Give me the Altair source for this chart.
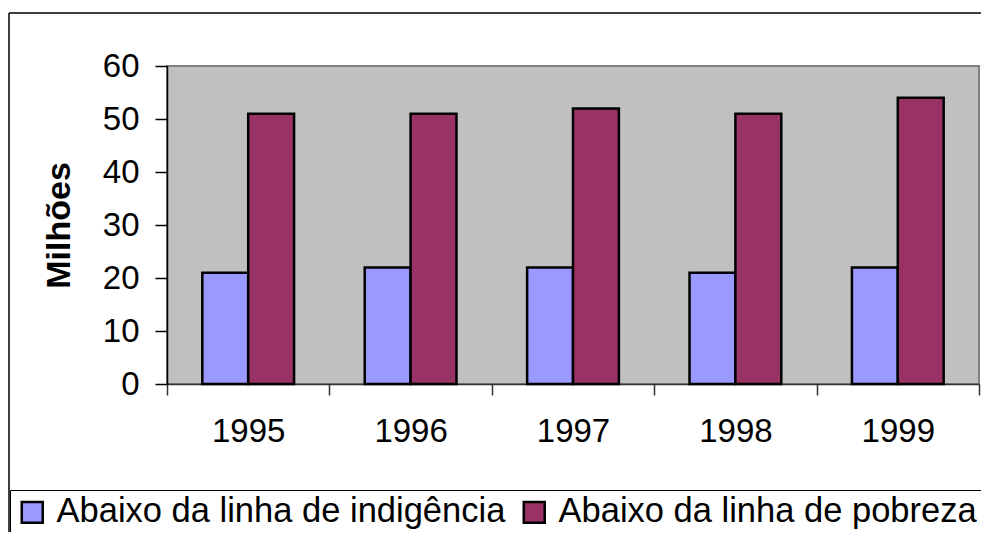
import altair as alt
import pandas as pd

anos = ["1995", "1996", "1997", "1998", "1999"]
indigencia = [21, 22, 22, 21, 22]
pobreza = [51, 51, 52, 51, 54]
series = ["Abaixo da linha de indigência", "Abaixo da linha de pobreza"]
cores = ["#9999FF", "#993366"]
y_ticks = [0, 10, 20, 30, 40, 50, 60]

rows = []
for a, v1, v2 in zip(anos, indigencia, pobreza):
    rows.append({"ano": a, "serie": series[0], "valor": v1})
    rows.append({"ano": a, "serie": series[1], "valor": v2})
df = pd.DataFrame(rows)

FONT = "Liberation Sans"

frame_top = alt.Chart(pd.DataFrame({"k": [0]})).mark_rule(
    stroke="black", strokeWidth=1.5
).encode(
    x=alt.value(-158), x2=alt.value(900), y=alt.value(-53)
)
frame_left = alt.Chart(pd.DataFrame({"k": [0]})).mark_rule(
    stroke="black", strokeWidth=1.5
).encode(
    x=alt.value(-158), y=alt.value(-53), y2=alt.value(700)
)

bars = alt.Chart(df).mark_bar(stroke="black", strokeWidth=2.5).encode(
    x=alt.X("ano:N", sort=anos,
            scale=alt.Scale(paddingInner=0, paddingOuter=0),
            axis=alt.Axis(title=None, labelAngle=0, tickBand="extent",
                          tickSize=11, tickColor="#333333", domainColor="#333333",
                          domainWidth=1.5, tickWidth=1.5,
                          labelFontSize=33, labelFont=FONT, labelColor="black",
                          labelPadding=20)),
    xOffset=alt.XOffset("serie:N", sort=series,
                        scale=alt.Scale(paddingInner=0, paddingOuter=0.77)),
    y=alt.Y("valor:Q", scale=alt.Scale(domain=[0, 60], nice=False),
            axis=alt.Axis(title="Milhões", values=y_ticks, grid=False,
                          tickSize=12, tickColor="black", domainColor="black",
                          domainWidth=1.5, tickWidth=1.5,
                          labelFontSize=33, labelFont=FONT, labelColor="black",
                          labelPadding=16,
                          titleFontSize=34, titleFont=FONT, titleFontWeight="bold",
                          titleColor="black", titlePadding=26)),
    color=alt.Color("serie:N", sort=series,
                    scale=alt.Scale(domain=series, range=cores),
                    legend=alt.Legend(title=None, orient="none", legendX=-157, legendY=424,
                                      direction="horizontal",
                                      strokeColor="black", fillColor="white",
                                      padding=5, symbolType="square", symbolSize=440,
                                      symbolStrokeColor="black", symbolStrokeWidth=2.5,
                                      labelFontSize=34.5, labelFont=FONT, labelColor="black",
                                      labelLimit=800, labelOffset=7, columnPadding=11)),
)

chart = alt.layer(frame_top, frame_left, bars).properties(
    width=812, height=318,
    autosize=alt.AutoSizeParams(type="none"),
    padding={"left": 159, "top": 58, "right": 2, "bottom": 148},
).configure_view(
    fill="#C0C0C0", stroke="#808080", strokeWidth=2
)

chart.save("out.html", embed_options={"renderer": "svg", "actions": False})
